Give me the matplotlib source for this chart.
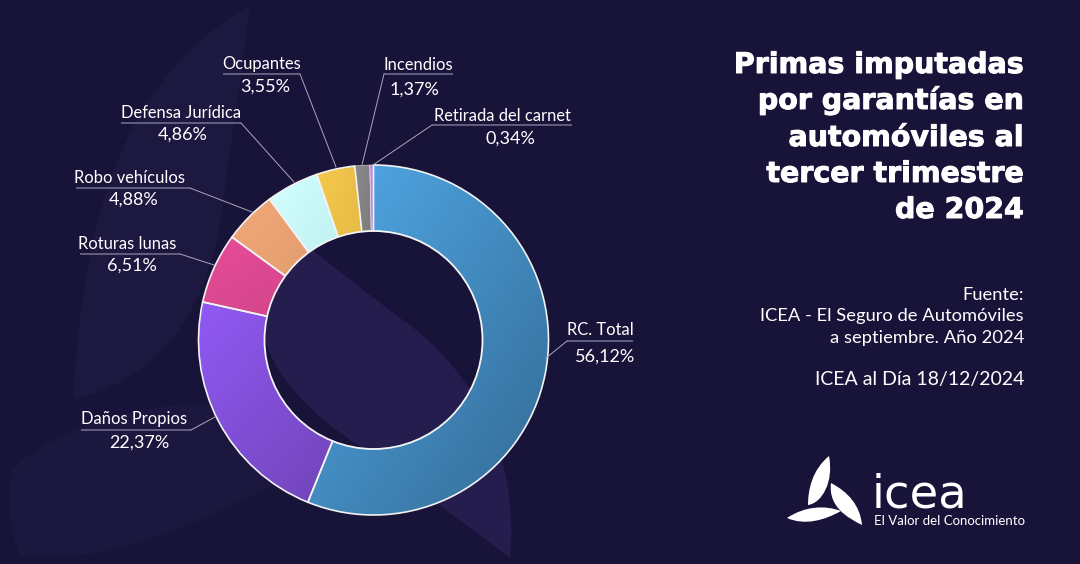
import numpy as np
import matplotlib
matplotlib.use("Agg")
import matplotlib.pyplot as plt
import matplotlib.patheffects as pe
from matplotlib.path import Path
from matplotlib.patches import PathPatch, Circle
from matplotlib.colors import LinearSegmentedColormap

categories = ["RC. Total", "Daños Propios", "Roturas lunas", "Robo vehículos",
              "Defensa Jurídica", "Ocupantes", "Incendios", "Retirada del carnet"]
values = [56.12, 22.37, 6.51, 4.88, 4.86, 3.55, 1.37, 0.34]
value_labels = ["56,12%", "22,37%", "6,51%", "4,88%", "4,86%", "3,55%", "1,37%", "0,34%"]
colors_start = ["#52abeb", "#9159f5", "#e84c98", "#f2a878", "#d2ffff", "#f5c94c", "#8a8a8a", "#c48cf0"]
colors_end = ["#336a94", "#6c42b0", "#c44284", "#d69468", "#b5e6e6", "#dcb040", "#757575", "#a874d8"]

title_lines = ["Primas imputadas", "por garantías en", "automóviles al", "tercer trimestre", "de 2024"]
source_lines = ["Fuente:", "ICEA - El Seguro de Automóviles", "a septiembre. Año 2024", "", "ICEA al Día 18/12/2024"]
source_sizes = [13.2, 13.2, 13.2, 13.2, 14.0]

BG = "#181339"
W, H = 1080, 564
plt.rcParams["font.family"] = ["Lato", "DejaVu Sans"]

fig = plt.figure(figsize=(W / 100, H / 100), dpi=100, facecolor=BG)
ax = fig.add_axes([0, 0, 1, 1], zorder=1)
ax.set_xlim(0, W); ax.set_ylim(H, 0); ax.axis("off")
ax.patch.set_alpha(0)


def leaf(pts):
    codes = [Path.MOVETO] + [Path.CURVE4] * (len(pts) - 1)
    return Path(pts, codes)


# faint decorative leaves behind the chart
leaf_a = leaf([(250, 5), (140, 70), (85, 180), (73, 400),
               (170, 375), (215, 300), (226, 180), (234, 120), (244, 60), (250, 5)])
leaf_b = leaf([(215, 405), (120, 400), (40, 440), (12, 470),
               (8, 500), (8, 530), (20, 555),
               (120, 565), (190, 525), (300, 472),
               (290, 450), (250, 420), (215, 405)])
leaf_c = leaf([(265, 340), (262, 290), (280, 225), (312, 250),
               (345, 275), (375, 300), (407, 323),
               (470, 370), (520, 450), (510, 558),
               (460, 520), (405, 480), (358, 445),
               (310, 415), (275, 375), (265, 340)])
for p, c in [(leaf_a, "#1d1840"), (leaf_b, "#1c173f"), (leaf_c, "#241d4d")]:
    ax.add_patch(PathPatch(p, fc=c, ec="none", zorder=1))

# donut
CX, CY, R = 373.5, 340, 175
HOLE_R = 109
LIM = 1.03
pw, ph = 2 * R * LIM / W, 2 * R * LIM / H
pie_ax = fig.add_axes([(CX - R * LIM) / W, 1 - (CY + R * LIM) / H, pw, ph], zorder=2)
pie_ax.patch.set_alpha(0)
wedges, _ = pie_ax.pie(values, startangle=90, counterclock=False, radius=1,
                       wedgeprops=dict(facecolor="none", edgecolor="none"))

gx, gy = np.meshgrid(np.linspace(0, 1, 200), np.linspace(0, 1, 200))
grad = (gx + (1 - gy)) / 2
for w, c0, c1, val in zip(wedges, colors_start, colors_end, values):
    bb = w.get_path().get_extents(w.get_patch_transform())
    cmap = LinearSegmentedColormap.from_list("g", [c0, c1])
    im = pie_ax.imshow(grad, extent=[bb.x0, bb.x1, bb.y0, bb.y1], origin="lower",
                       cmap=cmap, vmin=0, vmax=1, aspect="auto", zorder=1, interpolation="bilinear")
    im.set_clip_path(w)
    w.set_edgecolor("#f2f2f2"); w.set_linewidth(1.2 if val > 2 else 0.35); w.set_zorder(2)
pie_ax.set_xlim(-LIM, LIM); pie_ax.set_ylim(-LIM, LIM); pie_ax.axis("off")

# hole with background showing through
top = fig.add_axes([0, 0, 1, 1], zorder=3)
top.set_xlim(0, W); top.set_ylim(H, 0); top.axis("off"); top.patch.set_alpha(0)
hole_fill = Circle((CX, CY), HOLE_R, fc=BG, ec="none", zorder=1)
top.add_patch(hole_fill)
hole_leaf = PathPatch(leaf_c, fc="#241d4d", ec="none", zorder=2)
top.add_patch(hole_leaf)
hole_leaf.set_clip_path(hole_fill)
top.add_patch(Circle((CX, CY), HOLE_R, fc="none", ec="#f5f5f5", lw=1.3, zorder=3))

# name x-centre, value x-centre, name y, value y, underline x0,x1,y, leader from/to
LAB = {
    "RC. Total": (600, 605, 330, 357, 567, 633, 341, (567, 341), (546, 358)),
    "Daños Propios": (134, 139, 419, 443, 81, 191, 430, (191, 430), (215, 417)),
    "Roturas lunas": (127, 132, 244, 266, 80, 180, 254, (180, 254), (214, 265)),
    "Robo vehículos": (130, 134, 178, 200, 76, 190, 188, (190, 188), (252, 212)),
    "Defensa Jurídica": (181, 183, 113, 135, 121, 241, 123, (241, 123), (294, 182)),
    "Ocupantes": (262, 265, 64, 87, 223, 300, 74, (300, 74), (336, 167)),
    "Incendios": (418, 414, 65, 90, 384, 453, 74, (384, 74), (362, 165)),
    "Retirada del carnet": (502, 510, 116, 139, 432, 572, 125, (432, 125), (373, 165)),
}
for name, val in zip(categories, value_labels):
    nx, vx, ny, vy, ux0, ux1, uy, a, b = LAB[name]
    top.text(nx, ny, name, color="white", fontsize=11.9, ha="center", va="center", zorder=5)
    top.text(vx, vy, val, color="white", fontsize=13, ha="center", va="center", zorder=5)
    top.plot([ux0, ux1], [uy, uy], color="#6f6b8a", lw=1.2, zorder=4, solid_capstyle="butt")
    top.plot([a[0], b[0]], [a[1], b[1]], color="#a9a7b8", lw=0.7, zorder=4)

# title and source
heavy = [pe.withStroke(linewidth=0.7, foreground="white")]
for line, y in zip(title_lines, [73, 109, 146, 182, 218]):
    top.text(1024, y, line, color="white", fontsize=20.5, fontweight="bold",
             family=["DejaVu Sans"], ha="right", va="baseline", path_effects=heavy)
for line, y, fs in zip(source_lines, [295, 316, 338, 359, 380], source_sizes):
    if line:
        top.text(1024, y, line, color="white", fontsize=fs, ha="right", va="center")

# logo
logo_1 = leaf([(829, 456), (812, 470), (808, 490), (808, 505), (822, 503), (834, 482), (829, 456)])
logo_2 = leaf([(831, 483), (848, 492), (860, 505), (862, 525), (848, 518), (828, 507), (831, 483)])
logo_3 = leaf([(787, 518), (805, 506), (825, 505), (841, 511), (825, 520), (805, 526), (787, 518)])
for p in (logo_1, logo_2, logo_3):
    top.add_patch(PathPatch(p, fc="white", ec="none"))
top.text(872, 507, "icea", color="white", fontsize=33.5, family=["DejaVu Sans"], ha="left", va="baseline")
top.text(874, 521, "El Valor del Conocimiento", color="white", fontsize=9.55, ha="left", va="center")

fig.savefig("out.png", dpi=100, facecolor=BG)
